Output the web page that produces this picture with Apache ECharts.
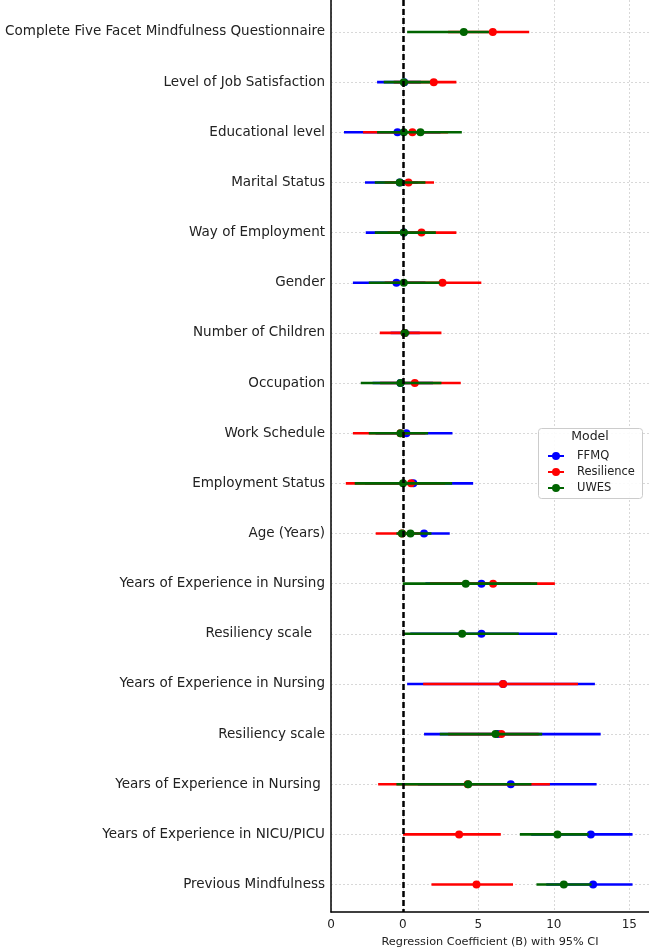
<!doctype html>
<html lang="en">
<head>
    <meta charset="UTF-8" />
    <title>Forest plot | echarts</title>
    <style>
        html, body { margin: 0; padding: 0; background: #fff; }
        #chart { width: 649px; height: 948px; }
    </style>
</head>
<body>
    <div id="chart"></div>
    <script src="https://cdn.jsdelivr.net/npm/echarts@6/dist/echarts.min.js"></script>
    <script>
        // 列標籤 (top to bottom)
        var rowLabels = [
            'Complete Five Facet Mindfulness Questionnaire',
            'Level of Job Satisfaction',
            'Educational level',
            'Marital Status',
            'Way of Employment',
            'Gender',
            'Number of Children',
            'Occupation',
            'Work Schedule',
            'Employment Status',
            'Age (Years)',
            'Years of Experience in Nursing',
            'Resiliency scale   ',
            'Years of Experience in Nursing',
            'Resiliency scale',
            'Years of Experience in Nursing ',
            'Years of Experience in NICU/PICU',
            'Previous Mindfulness'
        ];

        // x tick values / labels as printed
        var xTickValues = [-4.75, 0, 5, 10, 15];
        var xTickLabels = ['0', '0', '5', '10', '15'];

        // FFMQ
        var ffmqEst = [null, 0.1, -0.35, -0.2, 0.07, -0.42, 0.15, -0.15, 0.24, 0.7, 1.41, 5.21, 5.21, 6.64, 6.3, 7.15, 12.45, 12.6];
        var ffmqLo  = [null, -1.7, -3.89, -2.5, -2.45, -3.3, -0.8, -2.0, -1.8, -2.5, -0.3, 1.5, 0.5, 0.29, 1.41, 1.0, 8.5, 9.5];
        var ffmqHi  = [null, 1.2, 2.5, 1.0, 1.5, 1.5, 1.13, 2.0, 3.29, 4.66, 3.11, 8.5, 10.22, 12.72, 13.1, 12.83, 15.21, 15.21];

        // Resilience
        var resEst = [5.96, 2.05, 0.64, 0.38, 1.24, 2.63, 0.13, 0.8, -0.15, 0.55, -0.05, 5.98, null, 6.64, 6.53, 4.3, 3.73, 4.88];
        var resLo  = [3.0, -0.6, -2.63, -1.2, -1.0, -1.2, -1.52, -1.5, -3.3, -3.77, -1.79, 1.8, null, 1.35, 3.0, -1.63, 0.02, 1.9];
        var resHi  = [8.37, 3.55, 3.0, 2.07, 3.55, 5.2, 2.56, 3.84, 1.5, 2.8, 1.2, 10.07, null, 11.6, 9.0, 9.74, 6.49, 7.3];

        // UWES
        var uwesEst = [4.04, 0.07, 1.17, -0.2, 0.07, 0.07, 0.13, -0.15, -0.15, 0.02, 0.51, 4.17, 3.93, null, 6.14, 4.33, 10.24, 10.66];
        var uwesLo  = [0.29, -1.26, -1.7, -1.85, -1.85, -2.25, -0.15, -2.78, -2.25, -3.18, -0.42, 0.0, 0.0, null, 2.45, -0.42, 7.75, 8.85];
        var uwesHi  = [5.7, 1.8, 3.91, 1.5, 2.19, 2.45, 0.45, 2.56, 1.68, 3.27, 1.9, 8.9, 7.68, null, 9.23, 8.52, 12.3, 12.5];
        // extra UWES points near zero
        var uwesExtra = [null, null, 0.07, null, null, null, null, null, null, null, -0.05, null, null, null, null, null, null, null];

        var colors = { FFMQ: '#0000ff', Resilience: '#ff0000', UWES: '#006400' };
        var rowIndex = rowLabels.map(function (_, i) { return i; });
        var legendIcon = 'path://M0,3H16V5H0Z M4,4A4,4 0 1 1 12,4A4,4 0 1 1 4,4Z';

        function ciSeries(name, est, lo, hi) {
            var color = colors[name];
            var data = [];
            est.forEach(function (v, i) {
                if (v != null) data.push([v, i, lo[i], hi[i]]);
            });
            return {
                type: 'custom',
                name: name,
                itemStyle: { color: color },
                encode: { x: [0, 2, 3], y: 1 },
                data: data,
                renderItem: function (params, api) {
                    var y = api.value(1);
                    var p0 = api.coord([api.value(2), y]);
                    var p1 = api.coord([api.value(3), y]);
                    var c = api.coord([api.value(0), y]);
                    return {
                        type: 'group',
                        children: [
                            { type: 'line', shape: { x1: p0[0], y1: p0[1], x2: p1[0], y2: p1[1] }, style: { stroke: color, lineWidth: 2.6 } },
                            { type: 'circle', shape: { cx: c[0], cy: c[1], r: 4 }, style: { fill: color } }
                        ]
                    };
                }
            };
        }

        var chart = echarts.init(document.getElementById('chart'));

        var ffmq = ciSeries('FFMQ', ffmqEst, ffmqLo, ffmqHi);
        ffmq.markLine = {
            silent: true,
            symbol: 'none',
            label: { show: false },
            lineStyle: { color: '#000', type: [6, 3], width: 2.5 },
            data: [{ xAxis: 0 }]
        };

        var extra = [];
        uwesExtra.forEach(function (v, i) { if (v != null) extra.push([v, i]); });

        var option = {
            animation: false,
            textStyle: { fontFamily: 'DejaVu Sans' },
            grid: { left: 331, right: 0, top: 0, bottom: 36, outerBoundsMode: 'none' },
            xAxis: {
                type: 'value',
                min: -4.75,
                max: 16.3,
                axisLine: { show: true, onZero: false, lineStyle: { color: '#000', width: 1.5 } },
                axisTick: { show: false, customValues: xTickValues },
                axisLabel: {
                    customValues: xTickValues,
                    color: '#222',
                    fontSize: 12,
                    margin: 7,
                    formatter: function (v) {
                        var k = 0;
                        xTickValues.forEach(function (t, i) { if (Math.abs(t - v) < Math.abs(xTickValues[k] - v)) k = i; });
                        return xTickLabels[k];
                    }
                },
                splitLine: { show: true, lineStyle: { color: '#d8d8d8', type: [2, 2], width: 1 } },
                name: 'Regression Coefficient (B) with 95% CI',
                nameLocation: 'middle',
                nameGap: 25,
                nameTextStyle: { fontSize: 11.3, color: '#222' }
            },
            yAxis: {
                type: 'value',
                min: -0.638,
                max: 17.547,
                inverse: true,
                axisLine: { show: true, onZero: false, lineStyle: { color: '#000', width: 1.5 } },
                axisTick: { show: false, customValues: rowIndex },
                axisLabel: {
                    customValues: rowIndex,
                    color: '#222',
                    fontSize: 13.5,
                    margin: 6,
                    formatter: function (v) { return rowLabels[Math.round(v)]; }
                },
                splitLine: { show: true, lineStyle: { color: '#d8d8d8', type: [2, 2], width: 1 } }
            },
            legend: {
                orient: 'vertical',
                left: 543,
                top: 445,
                itemWidth: 16,
                itemHeight: 8,
                itemGap: 4,
                z: 12,
                textStyle: { fontSize: 11.5, color: '#222', padding: [0, 0, 0, 8] },
                data: [
                    { name: 'FFMQ', icon: legendIcon },
                    { name: 'Resilience', icon: legendIcon },
                    { name: 'UWES', icon: legendIcon }
                ]
            },
            graphic: [
                {
                    type: 'rect', left: 538, top: 428, z: 10,
                    shape: { width: 104, height: 70, r: 3 },
                    style: { fill: 'rgba(255,255,255,0.9)', stroke: '#cccccc', lineWidth: 1 }
                },
                {
                    type: 'text', x: 590, y: 437, z: 11,
                    style: { text: 'Model', fontSize: 12.5, fontFamily: 'DejaVu Sans', fill: '#222', align: 'center', verticalAlign: 'middle' }
                }
            ],
            series: [
                ffmq,
                ciSeries('Resilience', resEst, resLo, resHi),
                ciSeries('UWES', uwesEst, uwesLo, uwesHi),
                {
                    type: 'scatter',
                    name: 'UWES',
                    symbolSize: 8,
                    itemStyle: { color: colors.UWES, opacity: 1 },
                    data: extra
                }
            ]
        };

        chart.setOption(option);

        window.onresize = function () {
            chart.resize();
        };
    </script>
</body>
</html>
